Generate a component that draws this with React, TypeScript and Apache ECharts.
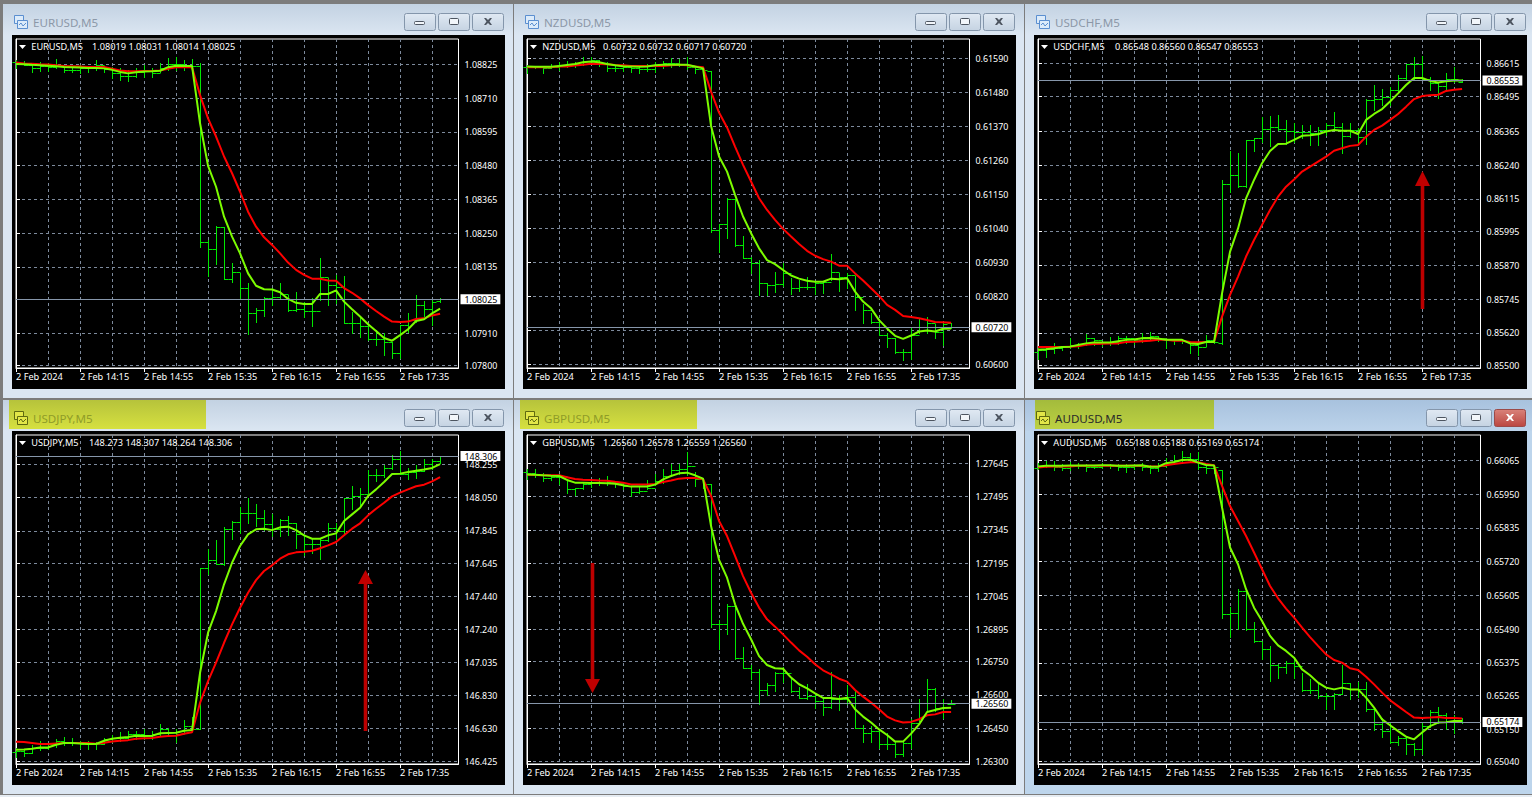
import React, { useEffect, useRef } from "react";
import * as echarts from "echarts";

const timeLabels = ["2 Feb 2024", "2 Feb 14:15", "2 Feb 14:55", "2 Feb 15:35", "2 Feb 16:15", "2 Feb 16:55", "2 Feb 17:35"];
const barIndex = Array.from({ length: 54 }, (_, i) => i);

// All prices below are in points (price x 10^digits)
const eurusdTicks = [107800, 107910, 108025, 108135, 108250, 108365, 108480, 108595, 108710, 108825];
const eurusdOpen = [108832,108828,108822,108812,108818,108815,108824,108806,108805,108812,108812,108822,108808,108795,108785,108785,108797,108805,108795,108813,108825,108825,108822,108820,108219,108195,108272,108093,108119,108064,107977,107988,108028,108032,108043,107988,107991,107986,107986,108100,108074,108066,107945,107943,107934,107889,107889,107881,107841,107937,107954,108005,107991,108019];
const eurusdHigh = [108840,108837,108828,108832,108828,108842,108820,108817,108823,108820,108840,108819,108817,108811,108806,108811,108823,108811,108828,108845,108851,108840,108842,108828,108227,108276,108270,108147,108116,108079,107996,108034,108062,108079,108039,108051,108017,108028,108164,108096,108108,108104,107983,107966,107943,107920,107909,107881,107937,107977,108039,108019,108022,108031];
const eurusdLow = [108811,108822,108797,108803,108803,108811,108800,108797,108794,108800,108806,108800,108777,108772,108768,108781,108783,108783,108800,108806,108806,108806,108803,108202,108104,108145,108093,108085,108028,107907,107949,107968,108005,108025,107986,107986,107966,107934,108022,108005,108011,107943,107911,107895,107886,107869,107835,107824,107824,107915,107949,107968,107937,108014];
const eurusdClose = [108828,108822,108812,108818,108815,108824,108806,108805,108812,108812,108822,108808,108795,108785,108785,108797,108805,108795,108813,108825,108825,108822,108820,108219,108195,108272,108093,108119,108064,107977,107988,108028,108032,108043,107988,107991,107986,107986,108100,108074,108066,107945,107943,107934,107889,107889,107881,107841,107937,107954,108005,107991,108017,108025];
const eurusdFast = [108826,108825,108823,108822,108820,108818,108816,108815,108814,108812,108812,108811,108806,108799,108794,108798,108800,108801,108803,108815,108820,108819,108819,108624,108479,108408,108306,108238,108181,108113,108071,108059,108058,108049,108026,108013,108009,108009,108043,108043,108055,108017,107991,107966,107940,107917,107893,107884,107903,107923,107951,107957,107977,107993];
const eurusdSlow = [108831,108828,108827,108825,108824,108822,108819,108818,108817,108816,108816,108816,108810,108804,108801,108801,108802,108802,108804,108810,108815,108815,108815,108720,108641,108579,108511,108454,108391,108323,108272,108236,108210,108181,108150,108125,108108,108095,108095,108089,108088,108063,108047,108028,108005,107985,107966,107949,107948,107949,107958,107960,107970,107976];

const nzdusdTicks = [60600, 60710, 60820, 60930, 61040, 61150, 61260, 61370, 61480, 61590];
const nzdusdOpen = [61560,61561,61561,61557,61563,61567,61571,61571,61582,61584,61573,61557,61557,61563,61557,61554,61554,61565,61573,61576,61571,61563,61554,61549,61034,61054,61134,60986,60943,60929,60864,60857,60859,60896,60846,60849,60849,60864,60867,60900,60881,60889,60819,60776,60738,60695,60684,60641,60641,60695,60722,60735,60706,60732];
const nzdusdHigh = [61568,61565,61565,61571,61577,61582,61579,61593,61595,61584,61579,61571,61571,61565,61565,61571,61579,61582,61590,61586,61595,61565,61563,61549,61054,61137,61134,61015,60946,60937,60864,60900,60927,60878,60873,60881,60867,60867,60956,60894,60894,60886,60795,60767,60746,60700,60684,60649,60716,60746,60752,60730,60735,60732];
const nzdusdLow = [61541,61557,61543,61557,61552,61561,61563,61568,61571,61565,61550,61550,61550,61546,61543,61550,61546,61557,61563,61565,61554,61541,61536,61029,60964,61010,60984,60943,60896,60824,60824,60835,60853,60827,60838,60843,60827,60830,60873,60838,60846,60774,60735,60733,60695,60657,60638,60614,60616,60700,60702,60684,60663,60717];
const nzdusdClose = [61561,61561,61557,61563,61567,61571,61571,61582,61584,61573,61557,61557,61563,61557,61554,61554,61565,61573,61576,61571,61563,61554,61552,61034,61054,61134,60986,60943,60929,60864,60857,60859,60896,60846,60849,60849,60864,60867,60900,60881,60889,60819,60776,60738,60695,60684,60641,60641,60695,60722,60735,60706,60730,60720];
const nzdusdFast = [61563,61562,61562,61562,61565,61568,61571,61577,61579,61577,61571,61567,61564,61563,61562,61563,61567,61569,61569,61569,61569,61563,61557,61371,61272,61223,61148,61078,61024,60975,60937,60924,60905,60887,60877,60870,60867,60867,60877,60875,60878,60835,60803,60781,60743,60716,60692,60682,60693,60706,60709,60706,60715,60716];
const nzdusdSlow = [61561,61561,61561,61561,61563,61563,61566,61569,61572,61571,61570,61568,61567,61565,61565,61565,61565,61565,61567,61569,61567,61563,61561,61482,61414,61366,61304,61245,61191,61137,61099,61067,61038,61013,60989,60967,60951,60940,60932,60919,60919,60894,60871,60846,60821,60792,60776,60756,60753,60749,60743,60737,60736,60734];

const usdchfTicks = [85500, 85620, 85745, 85870, 85995, 86115, 86240, 86365, 86495, 86615];
const usdchfOpen = [85550,85557,85559,85563,85569,85575,85579,85600,85594,85587,85587,85600,85600,85594,85606,85608,85600,85594,85594,85591,85575,85569,85594,85581,86170,86203,86163,86333,86339,86372,86380,86372,86367,86364,86364,86357,86370,86388,86380,86348,86370,86345,86481,86483,86493,86518,86561,86614,86614,86557,86542,86532,86557,86548];
const usdchfHigh = [85563,85567,85584,85571,85600,85584,85615,85600,85587,85606,85608,85608,85597,85621,85624,85608,85600,85597,85596,85587,85587,85612,85612,86185,86292,86284,86333,86341,86419,86422,86425,86407,86397,86388,86388,86380,86394,86438,86394,86397,86376,86483,86536,86520,86530,86573,86614,86638,86643,86567,86548,86579,86601,86560];
const usdchfLow = [85522,85532,85547,85557,85563,85563,85575,85575,85571,85575,85579,85581,85579,85587,85594,85591,85563,85579,85584,85544,85538,85571,85581,85579,86142,86160,86160,86292,86327,86311,86370,86318,86327,86339,86314,86314,86351,86370,86284,86345,86321,86318,86444,86462,86462,86505,86555,86557,86557,86518,86487,86518,86548,86547];
const usdchfClose = [85557,85559,85563,85569,85575,85579,85600,85594,85587,85587,85600,85600,85594,85606,85608,85600,85594,85594,85591,85575,85569,85594,85587,86170,86203,86163,86333,86339,86372,86380,86372,86367,86364,86364,86357,86370,86388,86380,86348,86370,86345,86481,86483,86493,86518,86561,86614,86614,86557,86542,86532,86557,86557,86553];
const usdchfFast = [85557,85559,85563,85568,85569,85575,85581,85584,85584,85584,85589,85594,85595,85600,85601,85599,85594,85594,85594,85581,85579,85586,85586,85766,85920,86006,86117,86185,86247,86292,86318,86319,86333,86348,86350,86354,86364,86370,86367,86367,86355,86407,86429,86447,86475,86505,86536,86562,86562,86551,86545,86550,86553,86553];
const usdchfSlow = [85568,85568,85568,85568,85569,85570,85576,85579,85580,85581,85581,85586,85587,85589,85591,85594,85594,85591,85591,85586,85585,85586,85587,85680,85760,85828,85902,85963,86019,86074,86123,86160,86187,86216,86234,86253,86271,86293,86302,86311,86314,86345,86370,86386,86407,86429,86456,86484,86495,86498,86500,86514,86518,86521];

const usdjpyTicks = [146425, 146630, 146830, 147035, 147240, 147440, 147645, 147845, 148050, 148255];
const usdjpyOpen = [146480,146489,146478,146509,146509,146530,146550,146544,146536,146530,146530,146530,146561,146571,146571,146591,146591,146581,146591,146622,146606,146591,146643,146626,147614,147666,147639,147855,147900,147953,147953,147926,147885,147859,147912,147892,147824,147762,147762,147789,147865,147844,148046,148060,148070,148187,148187,148235,148286,148198,148208,148216,148255,148273];
const usdjpyHigh = [146509,146503,146524,146550,146536,146565,146575,146571,146550,146550,146544,146571,146587,146606,146612,146612,146622,146612,146653,146632,146622,146678,146700,147618,147735,147789,147869,147906,147992,148050,148009,147974,147947,147920,147937,147892,147818,147803,147793,147892,147896,148046,148122,148107,148218,148224,148251,148311,148337,148235,148249,148286,148290,148307];
const usdjpyLow = [146454,146458,146474,146495,146499,146515,146524,146524,146509,146503,146503,146530,146544,146550,146561,146565,146565,146561,146581,146585,146544,146606,146612,146626,147577,147639,147635,147793,147834,147892,147875,147850,147814,147814,147822,147742,147694,147711,147674,147783,147793,147818,147982,147994,148076,148152,148179,148228,148194,148167,148173,148214,148224,148264];
const usdjpyClose = [146489,146478,146509,146509,146530,146550,146544,146536,146530,146530,146530,146561,146571,146571,146591,146591,146581,146591,146622,146606,146591,146643,146626,147614,147666,147639,147855,147900,147953,147953,147926,147885,147859,147912,147892,147824,147762,147762,147789,147865,147844,148046,148060,148070,148187,148187,148235,148286,148198,148208,148216,148255,148276,148306];
const usdjpyFast = [146497,146499,146503,146511,146511,146528,146538,146538,146536,146532,146532,146552,146565,146571,146575,146583,146581,146583,146598,146600,146602,146614,146618,146971,147218,147351,147516,147649,147752,147824,147855,147859,147850,147867,147871,147850,147818,147797,147797,147818,147830,147906,147947,147988,148060,148101,148146,148196,148198,148208,148216,148224,148233,148257];
const usdjpySlow = [146546,146544,146538,146532,146532,146536,146538,146538,146538,146538,146534,146540,146548,146552,146556,146565,146567,146569,146577,146581,146583,146595,146604,146786,146920,147033,147156,147269,147372,147464,147542,147598,147633,147674,147701,147713,147717,147723,147738,147756,147777,147818,147859,147892,147941,147982,148019,148058,148081,148101,148120,148130,148150,148177];

const gbpusdTicks = [126300, 126450, 126600, 126750, 126895, 127045, 127195, 127345, 127495, 127645];
const gbpusdOpen = [127605,127600,127591,127580,127585,127588,127528,127535,127550,127558,127558,127561,127555,127543,127516,127520,127535,127565,127588,127615,127618,127633,127576,127550,126918,126918,127001,126768,126723,126703,126622,126643,126700,126697,126617,126587,126595,126572,126547,126580,126580,126592,126452,126429,126437,126377,126377,126332,126384,126475,126565,126625,126542,126560];
const gbpusdHigh = [127618,127618,127600,127591,127595,127573,127535,127561,127570,127580,127588,127565,127558,127543,127543,127570,127595,127618,127641,127641,127696,127606,127576,127550,126938,127009,127001,126818,126733,126715,126655,126703,126727,126678,126637,126648,126610,126587,126703,126598,126643,126622,126462,126459,126444,126429,126392,126387,126490,126583,126673,126632,126583,126578];
const gbpusdLow = [127573,127585,127565,127568,127550,127513,127501,127531,127540,127546,127546,127540,127528,127498,127513,127531,127546,127558,127591,127595,127591,127543,127535,126908,126809,126876,126763,126720,126673,126557,126598,126617,126658,126613,126584,126583,126542,126508,126542,126532,126557,126449,126387,126387,126362,126354,126321,126324,126362,126482,126527,126527,126497,126559];
const gbpusdClose = [127600,127591,127580,127585,127588,127528,127535,127550,127558,127558,127561,127555,127543,127516,127520,127535,127565,127588,127615,127618,127633,127576,127550,126918,126918,127001,126768,126723,126703,126622,126643,126700,126697,126617,126587,126595,126572,126547,126580,126580,126592,126452,126429,126437,126377,126377,126332,126384,126475,126565,126625,126542,126565,126560];
const gbpusdFast = [127595,127594,127591,127589,127588,127570,127558,127558,127556,127556,127555,127553,127546,127540,127540,127541,127549,127573,127588,127600,127603,127591,127576,127362,127209,127129,127009,126921,126851,126775,126735,126720,126718,126678,126648,126629,126607,126586,126586,126581,126587,126535,126502,126475,126444,126419,126389,126389,126425,126467,126523,126532,126541,126542];
const gbpusdSlow = [127594,127592,127591,127591,127591,127582,127574,127571,127570,127568,127567,127562,127558,127550,127550,127550,127552,127561,127568,127576,127579,127579,127574,127498,127385,127317,127227,127136,127061,126994,126941,126908,126873,126836,126801,126772,126738,126711,126693,126673,126660,126622,126592,126565,126535,126502,126485,126475,126478,126490,126508,126512,126523,126523];

const audusdTicks = [65040, 65150, 65265, 65375, 65490, 65605, 65720, 65835, 65950, 66065];
const audusdOpen = [66040,66046,66050,66043,66040,66048,66046,66043,66043,66050,66046,66043,66043,66046,66043,66037,66046,66059,66066,66077,66070,66043,66040,66032,65541,65544,65620,65489,65450,65421,65367,65362,65376,65365,65282,65283,65262,65262,65268,65308,65287,65287,65217,65166,65143,65106,65121,65098,65081,65160,65209,65197,65174,65188];
const audusdHigh = [66055,66063,66063,66051,66059,66055,66051,66048,66055,66051,66051,66051,66051,66055,66048,66055,66074,66083,66097,66089,66093,66051,66048,66032,65567,65628,65620,65514,65446,65433,65373,65382,65385,65340,65319,65308,65274,65272,65367,65306,65310,65310,65226,65189,65174,65126,65126,65101,65174,65214,65226,65203,65197,65188];
const audusdLow = [66034,66043,66032,66031,66031,66037,66029,66039,66040,66040,66032,66026,66034,66032,66023,66029,66043,66051,66057,66059,66034,66023,66023,65529,65464,65489,65486,65447,65390,65314,65325,65340,65325,65279,65274,65257,65217,65217,65268,65251,65260,65211,65146,65124,65101,65094,65064,65060,65064,65158,65172,65151,65135,65169];
const audusdClose = [66046,66050,66043,66040,66048,66046,66043,66043,66050,66046,66043,66043,66046,66043,66037,66046,66059,66066,66077,66070,66043,66040,66043,65541,65544,65620,65489,65450,65421,65367,65362,65376,65365,65282,65283,65262,65262,65268,65308,65287,65287,65217,65166,65143,65106,65121,65098,65081,65160,65209,65197,65174,65181,65174];
const audusdFast = [66044,66046,66046,66046,66047,66047,66047,66047,66048,66048,66046,66046,66047,66048,66043,66043,66055,66059,66066,66067,66057,66049,66047,65904,65768,65711,65626,65563,65518,65467,65435,65416,65393,65353,65333,65308,65291,65285,65291,65285,65285,65257,65223,65183,65163,65143,65124,65115,65138,65160,65172,65173,65177,65177];
const audusdSlow = [66040,66043,66044,66044,66044,66046,66046,66046,66046,66046,66046,66046,66046,66046,66044,66044,66048,66052,66056,66058,66058,66052,66048,65978,65909,65858,65807,65751,65694,65637,65595,65560,65529,65495,65463,65433,65404,65385,65376,65357,65351,65328,65302,65274,65248,65228,65208,65189,65188,65189,65191,65188,65188,65186];

const headerPrices = [
  "1.08019 1.08031 1.08014 1.08025",
  "0.60732 0.60732 0.60717 0.60720",
  "0.86548 0.86560 0.86547 0.86553",
  "148.273 148.307 148.264 148.306",
  "1.26560 1.26578 1.26559 1.26560",
  "0.65188 0.65188 0.65169 0.65174",
];
const titles = ["EURUSD,M5", "NZDUSD,M5", "USDCHF,M5", "USDJPY,M5", "GBPUSD,M5", "AUDUSD,M5"];
const headerPriceX = [92, 92, 93, 89, 92, 94];

const panels = [
  { ticks: eurusdTicks, o: eurusdOpen, h: eurusdHigh, l: eurusdLow, c: eurusdClose, fast: eurusdFast, slow: eurusdSlow, min: 107791, max: 108911, digits: 5, last: 108025, hidden: 108025 },
  { ticks: nzdusdTicks, o: nzdusdOpen, h: nzdusdHigh, l: nzdusdLow, c: nzdusdClose, fast: nzdusdFast, slow: nzdusdSlow, min: 60588, max: 61652, digits: 5, last: 60720, hidden: 60710 },
  { ticks: usdchfTicks, o: usdchfOpen, h: usdchfHigh, l: usdchfLow, c: usdchfClose, fast: usdchfFast, slow: usdchfSlow, min: 85490, max: 86706, digits: 5, last: 86553, hidden: -1 },
  { ticks: usdjpyTicks, o: usdjpyOpen, h: usdjpyHigh, l: usdjpyLow, c: usdjpyClose, fast: usdjpyFast, slow: usdjpySlow, min: 146409, max: 148436, digits: 3, last: 148306, hidden: -1 },
  { ticks: gbpusdTicks, o: gbpusdOpen, h: gbpusdHigh, l: gbpusdLow, c: gbpusdClose, fast: gbpusdFast, slow: gbpusdSlow, min: 126288, max: 127773, digits: 5, last: 126560, hidden: -1 },
  { ticks: audusdTicks, o: audusdOpen, h: audusdHigh, l: audusdLow, c: audusdClose, fast: audusdFast, slow: audusdSlow, min: 65031, max: 66151, digits: 5, last: 65174, hidden: -1 },
];

const FONT = '"Noto Sans", sans-serif';
const TEXT_SIZE = 8.9;
const HEADER_SIZE = 9.2;
const GRID_COLOR = "#7d8a9c";

function chrome(idx: number) {
  const col = idx % 3;
  const row = idx >= 3 ? 1 : 0;
  const dx = col === 2 ? 1022 : col * 511;
  const dy = row * 396;
  const active = idx === 5;
  const front = 20;
  const back = -20;
  const LG = echarts.graphic.LinearGradient;
  const els: any[] = [];
  const rect = (x: number, y: number, w: number, h: number, fill: any, z = back, extra: any = {}) =>
    els.push({ type: "rect", silent: true, z, shape: { x: x + dx, y: y + dy, width: w, height: h, r: extra.r || 0 }, style: { fill, stroke: extra.stroke, lineWidth: extra.stroke ? 1 : 0 } });

  const winW = col === 2 ? 507 : 510;
  const winX = col === 2 ? 3 : 3;
  rect(winX, 4, winW, row ? 394 : 394, active ? "#bdd5ec" : "#dbe6f2");
  rect(winX, 4, winW, 31, new LG(0, 0, 0, 1, active
    ? [{ offset: 0, color: "#a8c2de" }, { offset: 1, color: "#bcd3ea" }]
    : [{ offset: 0, color: "#c3d2e2" }, { offset: 1, color: "#dbe6f2" }]));
  if (row) {
    const w = idx === 3 ? 197 : idx === 4 ? 177 : 179;
    const x = idx === 3 ? 9 : idx === 4 ? 9 : 13;
    const stops = active
      ? [{ offset: 0, color: "#a3bb3c" }, { offset: 1, color: "#bdd142" }]
      : [{ offset: 0, color: "#b6c33b" }, { offset: 1, color: "#d6e040" }];
    rect(x, 4, w, 29, new LG(0, 0, 0, 1, stops));
  }
  rect(12, 35, 493, 354, "#000000");

  // window icon
  const iconStroke = row ? "#5f6a10" : "#5b8fd0";
  const iconFill = row ? "#e2e648" : "#dcebfa";
  rect(14.5, 15.5, 9, 8, iconFill, back + 1, { stroke: iconStroke });
  rect(17.5, 20.5, 10, 8, iconFill, back + 2, { stroke: iconStroke });
  els.push({
    type: "polyline", silent: true, z: back + 3,
    shape: { points: [[19 + dx, 25 + dy], [21 + dx, 23 + dy], [23 + dx, 26 + dy], [26 + dx, 23 + dy]] },
    style: { stroke: iconStroke, lineWidth: 1, fill: "none" },
  });

  els.push({
    type: "text", silent: true, z: front, x: 33 + dx, y: 22 + dy,
    style: { text: titles[idx], fill: active ? "#2a2a2a" : row ? "#8f9c28" : "#8c98a8", font: `11.6px ${FONT}`, verticalAlign: "middle", align: "left" },
  });

  // window buttons
  const btnFill = new LG(0, 0, 0, 1, [{ offset: 0, color: "#e0e9f3" }, { offset: 1, color: "#c5d3e2" }]);
  const closeFill = new LG(0, 0, 0, 1, [{ offset: 0, color: "#d9827a" }, { offset: 1, color: "#bb4640" }]);
  rect(404.5, 13.5, 31, 17, btnFill, back + 1, { stroke: "#8496ab", r: 2 });
  rect(438.5, 13.5, 31, 17, btnFill, back + 1, { stroke: "#8496ab", r: 2 });
  rect(472.5, 13.5, 31, 17, active ? closeFill : btnFill, back + 1, { stroke: active ? "#9b4a48" : "#8496ab", r: 2 });
  rect(414.5, 21.5, 10, 3, "#f2f6fa", back + 2, { stroke: "#4d5560", r: 1 });
  rect(449.5, 18.5, 9, 6, "#f2f6fa", back + 2, { stroke: "#4d5560", r: 1 });
  els.push({
    type: "polygon", silent: true, z: back + 2,
    shape: { points: [[484, 18], [486, 18], [488, 20], [490, 18], [492, 18], [489.5, 21.5], [492, 25], [490, 25], [488, 23], [486, 25], [484, 25], [486.5, 21.5]].map(([a, b]) => [a + dx, b + dy]) },
    style: { fill: active ? "#ffffff" : "#4d5560" },
  });

  // header triangle and text
  els.push({
    type: "polygon", silent: true, z: front,
    shape: { points: [[19 + dx, 45 + dy], [26 + dx, 45 + dy], [22.5 + dx, 49 + dy]] },
    style: { fill: "#ffffff" },
  });
  els.push({
    type: "text", silent: true, z: front, x: 31.3 + dx, y: 46.5 + dy,
    style: { text: titles[idx], fill: "#ffffff", font: `${HEADER_SIZE}px ${FONT}`, verticalAlign: "middle", align: "left" },
  });
  els.push({
    type: "text", silent: true, z: front, x: headerPriceX[idx] + dx, y: 46.5 + dy,
    style: { text: headerPrices[idx], fill: "#ffffff", font: `${HEADER_SIZE}px ${FONT}`, verticalAlign: "middle", align: "left" },
  });
  return els;
}

function arrow(x: number, tail: number, baseY: number, tip: number) {
  return [
    { type: "rect", silent: true, z: 19, shape: { x: x - 1.8, y: Math.min(tail, baseY), width: 3.6, height: Math.abs(tail - baseY) }, style: { fill: "#bd0000" } },
    { type: "polygon", silent: true, z: 19, shape: { points: [[x - 7.5, baseY], [x + 7.5, baseY], [x, tip]] }, style: { fill: "#c00000" } },
  ];
}

export default function App() {
  const ref = useRef<HTMLDivElement>(null);

  useEffect(() => {
    if (!ref.current) return;
    const chart = echarts.init(ref.current, undefined, { renderer: "svg" });

    const grid: any[] = [];
    const xAxis: any[] = [];
    const yAxis: any[] = [];
    const series: any[] = [];
    const fmtNum = (d: number) => (v: number) => (v / Math.pow(10, d)).toFixed(d);
    const gridTicks = [4, 8, 12, 16, 20, 24, 28, 32, 36, 40, 44, 48, 52];
    const labelTicks = timeLabels.map((_, i) => i * 8);

    panels.forEach((p, k) => {
      const col = k % 3;
      const row = k >= 3 ? 1 : 0;
      const left = col === 0 ? 16 : col === 1 ? 527 : 1038;
      grid.push({ left, top: 39 + row * 396, width: 442.5, height: 329, show: true, backgroundColor: "#000", borderColor: "#fff", borderWidth: 1, z: 0 });
      const fmt = fmtNum(p.digits);
      xAxis.push({
        type: "value", gridIndex: k, position: "bottom", min: 0, max: 55.3, axisLine: { show: false },
        axisTick: { show: false, customValues: gridTicks }, axisLabel: { show: false },
        splitLine: { show: true, lineStyle: { color: GRID_COLOR, type: [3, 3], width: 1 } },
      });
      xAxis.push({
        type: "value", gridIndex: k, position: "bottom", min: 0, max: 55.3,
        axisLine: { show: true, lineStyle: { color: "#fff" } },
        axisTick: { show: true, length: 4, customValues: labelTicks, lineStyle: { color: "#fff" } },
        axisLabel: {
          show: true, customValues: labelTicks, color: "#fff", fontSize: HEADER_SIZE, fontFamily: FONT, margin: 4, align: "left",
          formatter: (v: number) => timeLabels[v / 8] ?? "",
        },
        splitLine: { show: false },
      });
      yAxis.push({
        type: "value", gridIndex: k, position: "right", min: p.min, max: p.max, scale: true,
        axisLine: { show: true, lineStyle: { color: "#fff" } },
        axisTick: { show: true, length: 4, customValues: p.ticks, lineStyle: { color: "#fff" } },
        axisLabel: { show: true, customValues: p.ticks.filter((t) => t !== p.hidden), color: "#fff", fontSize: TEXT_SIZE, fontFamily: FONT, margin: 6, formatter: fmt },
        splitLine: { show: true, lineStyle: { color: GRID_COLOR, type: [3, 3], width: 1 } },
      });

      series.push({
        type: "custom", xAxisIndex: k * 2, yAxisIndex: k, z: 2, clip: false, silent: true,
        data: barIndex.map((i) => [i, p.o[i], p.h[i], p.l[i], p.c[i]]),
        encode: { x: 0, y: [1, 2, 3, 4] },
        renderItem: (_: any, api: any) => {
          const i = api.value(0);
          const x = Math.round(api.coord([i, 0])[0]) + 0.5;
          const yO = Math.round(api.coord([i, api.value(1)])[1]) + 0.5;
          const yH = Math.round(api.coord([i, api.value(2)])[1]);
          const yL = Math.round(api.coord([i, api.value(3)])[1]) + 1;
          const yC = Math.round(api.coord([i, api.value(4)])[1]) + 0.5;
          const style = { stroke: "#00e800", lineWidth: 1, fill: "none" };
          return {
            type: "group",
            children: [
              { type: "line", shape: { x1: x, y1: yH, x2: x, y2: yL }, style },
              { type: "line", shape: { x1: x - 4, y1: yO, x2: x, y2: yO }, style },
              { type: "line", shape: { x1: x, y1: yC, x2: x + 4, y2: yC }, style },
            ],
          };
        },
      });
      series.push({
        type: "line", xAxisIndex: k * 2, yAxisIndex: k, z: 3, showSymbol: false, silent: true, smooth: false,
        data: barIndex.map((i) => [i, p.slow[i]]),
        lineStyle: { color: "#ff0000", width: 2 },
        markLine: {
          silent: true, symbol: "none", animation: false,
          lineStyle: { color: "#8696aa", type: "solid", width: 1 },
          label: {
            show: true, position: "end", distance: 2, formatter: () => fmt(p.last), color: "#000", backgroundColor: "#fff",
            fontSize: TEXT_SIZE, fontFamily: FONT, padding: [0, 3, 0, 4], lineHeight: 10,
          },
          data: [{ yAxis: p.last }],
        },
      });
      series.push({
        type: "line", xAxisIndex: k * 2, yAxisIndex: k, z: 4, showSymbol: false, silent: true, smooth: false,
        data: barIndex.map((i) => [i, p.fast[i]]),
        lineStyle: { color: "#7cfc00", width: 2 },
      });
    });

    const elements: any[] = [
      { type: "rect", silent: true, z: -30, shape: { x: 0, y: 795, width: 1532, height: 2 }, style: { fill: "#e6ecf2" } },
    ];
    panels.forEach((_, k) => elements.push(...chrome(k)));
    elements.push(...arrow(1422.5, 309, 186, 171));
    elements.push(...arrow(365.5, 731, 584, 570));
    elements.push(...arrow(592.5, 563, 679, 693));

    chart.setOption({
      animation: false,
      backgroundColor: "#7c7c7c",
      grid, xAxis, yAxis, series,
      graphic: { elements },
    });
    return () => chart.dispose();
  }, []);

  return <div ref={ref} style={{ position: "fixed", left: 0, top: 0, width: 1532, height: 797 }} />;
}
